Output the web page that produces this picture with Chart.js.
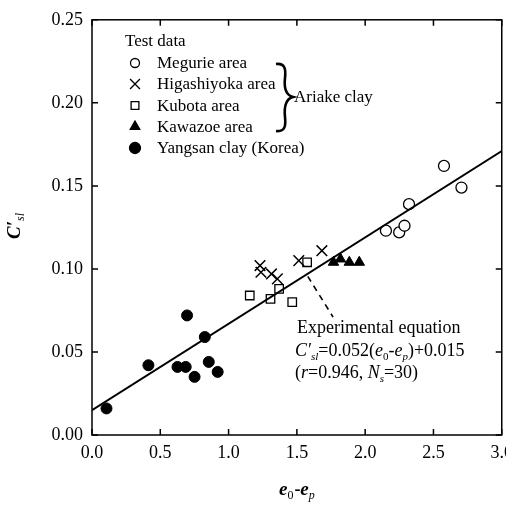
<!DOCTYPE html>
<html>
<head>
<meta charset="utf-8">
<script src="https://cdn.jsdelivr.net/npm/chart.js@4"></script>
<style>
  html, body { margin: 0; padding: 0; background: #fff; overflow: hidden; }
  #wrap { width: 520px; height: 505px; position: relative; }
</style>
</head>
<body>
<div id="wrap"><canvas id="chart"></canvas></div>
<script>
// Test data
const megurieX = [2.152, 2.249, 2.288, 2.321, 2.577, 2.705];
const megurieY = [0.123, 0.122, 0.126, 0.139, 0.162, 0.149];

const higashiX = [1.230, 1.237, 1.314, 1.357, 1.514, 1.683];
const higashiY = [0.102, 0.098, 0.097, 0.094, 0.105, 0.111];

const kubotaX = [1.155, 1.307, 1.370, 1.466, 1.575];
const kubotaY = [0.084, 0.082, 0.088, 0.080, 0.104];

const kawazoeX = [1.768, 1.819, 1.884, 1.957];
const kawazoeY = [0.104, 0.106, 0.104, 0.104];

const yangsanX = [0.106, 0.413, 0.626, 0.686, 0.696, 0.751, 0.826, 0.855, 0.920];
const yangsanY = [0.016, 0.042, 0.041, 0.041, 0.072, 0.035, 0.059, 0.044, 0.038];

// Experimental equation line and leader line to its label
const fitX = [0, 3];
const fitY = [0.015, 0.171];
const leaderX = [1.58, 1.765];
const leaderY = [0.0955, 0.071];

const xTicks = [0, 0.5, 1.0, 1.5, 2.0, 2.5, 3.0];
const yTicks = [0, 0.05, 0.10, 0.15, 0.20, 0.25];

const legendItems = [
  { label: 'Megurie area', style: 'circle', fill: '#fff', radius: 4.5 },
  { label: 'Higashiyoka area', style: 'crossRot', fill: '#000', radius: 7 },
  { label: 'Kubota area', style: 'rect', fill: '#fff', radius: 5.5 },
  { label: 'Kawazoe area', style: 'triangle', fill: '#000', radius: 5.5 },
  { label: 'Yangsan clay (Korea)', style: 'circle', fill: '#000', radius: 5.5 },
];

const SERIF = '"Liberation Serif", "Times New Roman", serif';

function toPoints(xs, ys) {
  return xs.map((x, i) => ({ x, y: ys[i] }));
}

function drawRich(ctx, parts, x, y, align) {
  let total = 0;
  parts.forEach((p) => {
    ctx.font = p.font;
    total += ctx.measureText(p.t).width + (p.gap || 0);
  });
  let cx = align === 'center' ? x - total / 2 : x;
  parts.forEach((p) => {
    ctx.font = p.font;
    ctx.fillText(p.t, cx, y + (p.dy || 0));
    cx += ctx.measureText(p.t).width + (p.gap || 0);
  });
}

const n = (s) => `${s}px ${SERIF}`;
const it = (s) => `italic ${s}px ${SERIF}`;
const bi = (s) => `bold italic ${s}px ${SERIF}`;

const decorPlugin = {
  id: 'decor',
  afterDraw(chart) {
    const { ctx, chartArea: a, scales } = chart;
    ctx.save();
    ctx.strokeStyle = '#000';
    ctx.fillStyle = '#000';

    // frame
    ctx.lineWidth = 1.5;
    ctx.strokeRect(a.left, a.top, a.right - a.left, a.bottom - a.top);

    // inward ticks on all four sides
    const tl = 6;
    xTicks.forEach((v) => {
      const px = scales.x.getPixelForValue(v);
      ctx.beginPath();
      ctx.moveTo(px, a.bottom); ctx.lineTo(px, a.bottom - tl);
      ctx.moveTo(px, a.top); ctx.lineTo(px, a.top + tl);
      ctx.stroke();
    });
    yTicks.forEach((v) => {
      const py = scales.y.getPixelForValue(v);
      ctx.beginPath();
      ctx.moveTo(a.left, py); ctx.lineTo(a.left + tl, py);
      ctx.moveTo(a.right, py); ctx.lineTo(a.right - tl, py);
      ctx.stroke();
    });

    // axis titles
    ctx.textBaseline = 'alphabetic';
    drawRich(ctx, [
      { t: 'e', font: bi(19) },
      { t: '0', font: n(12), dy: 4, gap: 1 },
      { t: '-', font: 'bold ' + n(18) },
      { t: 'e', font: bi(19) },
      { t: 'p', font: it(12), dy: 4 },
    ], (a.left + a.right) / 2, 495, 'center');

    ctx.save();
    ctx.translate(20, 226);
    ctx.rotate(-Math.PI / 2);
    drawRich(ctx, [
      { t: 'C\u2032', font: bi(19) },
      { t: 'sl', font: it(12), dy: 4 },
    ], 0, 0, 'center');
    ctx.restore();

    // legend
    ctx.textBaseline = 'middle';
    ctx.font = n(17);
    ctx.fillText('Test data', 125, 42);
    const rowY = [63, 84, 105.5, 126.5, 148];
    legendItems.forEach((item, i) => {
      ctx.save();
      ctx.fillStyle = item.fill;
      ctx.strokeStyle = '#000';
      ctx.lineWidth = 1.3;
      Chart.helpers.drawPoint(ctx, {
        pointStyle: item.style, radius: item.radius, rotation: 0, borderWidth: 1.3,
      }, 135, rowY[i]);
      ctx.restore();
      ctx.font = n(17);
      ctx.fillText(item.label, 157, rowY[i] + 1);
    });

    // brace grouping the Ariake clay sites
    const bx = 276, top = 64, bot = 131, mid = 97;
    ctx.lineWidth = 2.6;
    ctx.beginPath();
    ctx.moveTo(bx, top);
    ctx.bezierCurveTo(bx + 9, top - 1, bx + 10, top + 5, bx + 9, top + 14);
    ctx.bezierCurveTo(bx + 8, mid - 10, bx + 9, mid - 2, bx + 17, mid);
    ctx.bezierCurveTo(bx + 9, mid + 2, bx + 8, mid + 10, bx + 9, bot - 14);
    ctx.bezierCurveTo(bx + 10, bot - 5, bx + 9, bot + 1, bx, bot);
    ctx.stroke();
    ctx.font = n(17);
    ctx.fillText('Ariake clay', 294, mid + 1);

    // equation label
    ctx.textBaseline = 'alphabetic';
    ctx.font = n(18);
    ctx.fillText('Experimental equation', 297, 333);
    drawRich(ctx, [
      { t: 'C\u2032', font: it(18) },
      { t: 'sl', font: it(11), dy: 4 },
      { t: '=0.052(', font: n(18) },
      { t: 'e', font: it(18) },
      { t: '0', font: n(11), dy: 4 },
      { t: '-', font: n(18) },
      { t: 'e', font: it(18) },
      { t: 'p', font: it(11), dy: 4 },
      { t: ')+0.015', font: n(18) },
    ], 295, 356, 'left');
    drawRich(ctx, [
      { t: '(', font: n(18) },
      { t: 'r', font: it(18) },
      { t: '=0.946, ', font: n(18) },
      { t: 'N', font: it(18) },
      { t: 's', font: it(11), dy: 4 },
      { t: '=30)', font: n(18) },
    ], 295, 378, 'left');

    ctx.restore();
  },
};

new Chart(document.getElementById('chart'), {
  type: 'scatter',
  data: {
    datasets: [
      {
        type: 'line',
        data: toPoints(fitX, fitY),
        borderColor: '#000',
        borderWidth: 2,
        pointRadius: 0,
        fill: false,
      },
      {
        type: 'line',
        data: toPoints(leaderX, leaderY),
        borderColor: '#000',
        borderWidth: 1.6,
        borderDash: [6, 5],
        pointRadius: 0,
        fill: false,
      },
      {
        label: 'Megurie area',
        data: toPoints(megurieX, megurieY),
        pointStyle: 'circle',
        pointRadius: 5.5,
        backgroundColor: '#fff',
        borderColor: '#000',
        borderWidth: 1.3,
      },
      {
        label: 'Higashiyoka area',
        data: toPoints(higashiX, higashiY),
        pointStyle: 'crossRot',
        pointRadius: 7.5,
        borderColor: '#000',
        borderWidth: 1.5,
      },
      {
        label: 'Kubota area',
        data: toPoints(kubotaX, kubotaY),
        pointStyle: 'rect',
        pointRadius: 6,
        backgroundColor: '#fff',
        borderColor: '#000',
        borderWidth: 1.3,
      },
      {
        label: 'Kawazoe area',
        data: toPoints(kawazoeX, kawazoeY),
        pointStyle: 'triangle',
        pointRadius: 6,
        backgroundColor: '#000',
        borderColor: '#000',
        borderWidth: 1,
      },
      {
        label: 'Yangsan clay (Korea)',
        data: toPoints(yangsanX, yangsanY),
        pointStyle: 'circle',
        pointRadius: 5.5,
        backgroundColor: '#000',
        borderColor: '#000',
        borderWidth: 1,
      },
    ],
  },
  options: {
    responsive: true,
    maintainAspectRatio: false,
    animation: false,
    layout: { padding: { left: 0, right: 17, top: 17, bottom: 0 } },
    plugins: { legend: { display: false }, tooltip: { enabled: false } },
    scales: {
      x: {
        type: 'linear',
        min: 0,
        max: 3,
        afterBuildTicks: (scale) => { scale.ticks = xTicks.map((v) => ({ value: v })); },
        afterFit: (scale) => { scale.height = 70; },
        grid: { display: true, drawOnChartArea: false, drawTicks: false },
        border: { display: false },
        ticks: {
          color: '#000',
          padding: 7,
          font: { family: SERIF, size: 18 },
          callback: (v) => v.toFixed(1),
        },
      },
      y: {
        type: 'linear',
        min: 0,
        max: 0.25,
        afterBuildTicks: (scale) => { scale.ticks = yTicks.map((v) => ({ value: v })); },
        afterFit: (scale) => { scale.width = 92; },
        grid: { display: true, drawOnChartArea: false, drawTicks: false },
        border: { display: false },
        ticks: {
          color: '#000',
          padding: 9,
          font: { family: SERIF, size: 18 },
          callback: (v) => v.toFixed(2),
        },
      },
    },
  },
  plugins: [decorPlugin],
});
</script>
</body>
</html>
